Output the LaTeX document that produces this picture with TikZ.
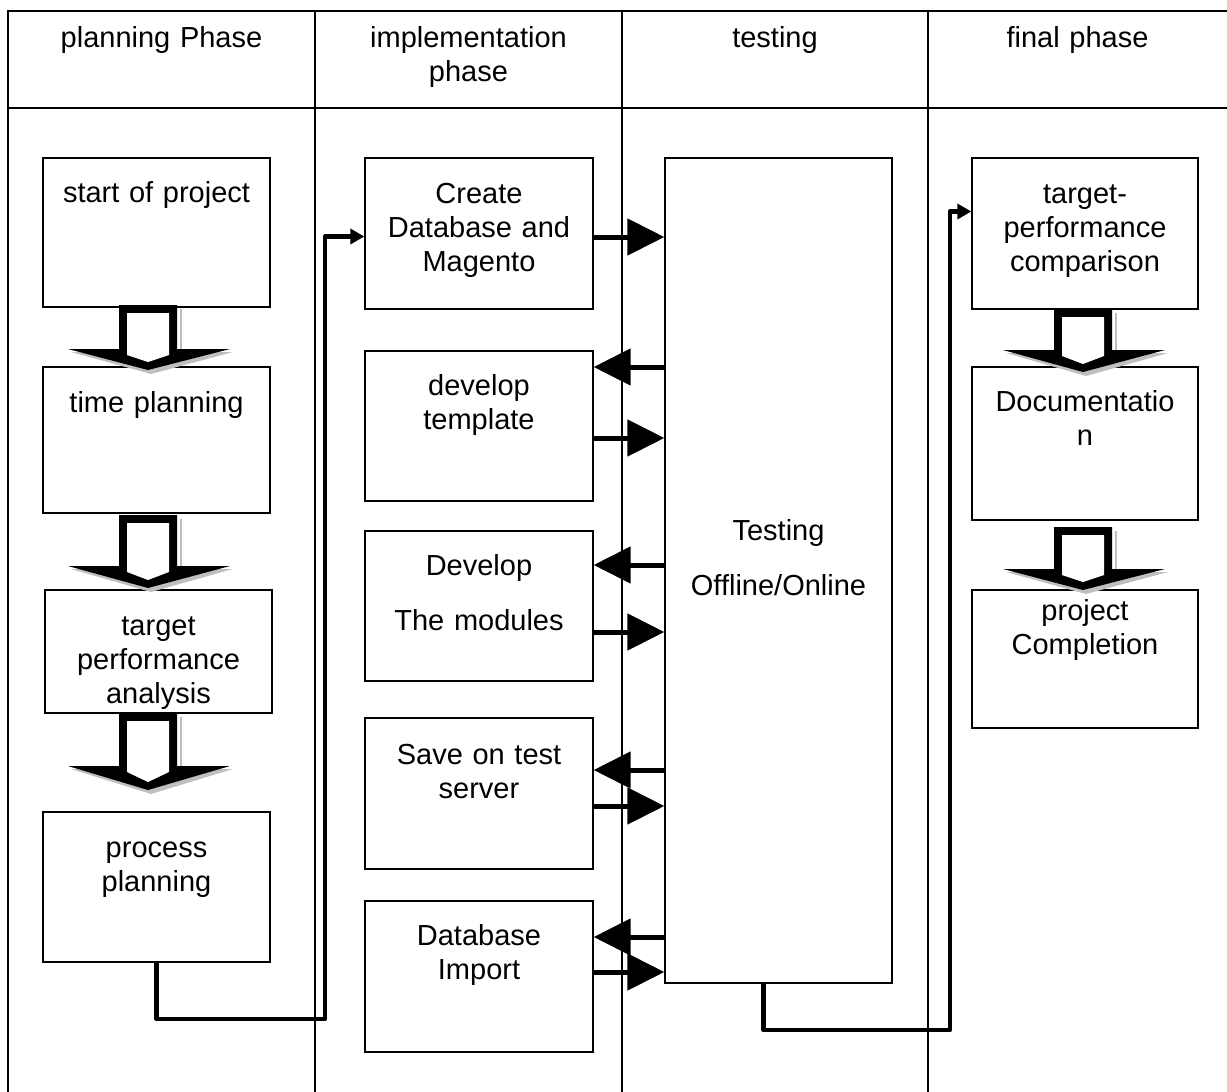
\documentclass[tikz,border=0pt]{standalone}
\usepackage{fontspec}
\setmainfont{Liberation Sans}
\usetikzlibrary{arrows.meta,calc}

\tikzset{
  box/.style={draw, line width=1.3pt, rectangle, inner sep=0pt},
  txt/.style={font=\fontsize{29}{34}\selectfont, text width=227pt, align=center, anchor=base, inner sep=0pt},
  gridline/.style={line width=2.2pt},
  side/.style={line width=5pt, -{Triangle[length=37pt,width=36pt]}},
  conn/.style={line width=4.5pt, -{Triangle[length=14pt,width=15pt]}, line join=round},
}

\newcommand\mkbox[5]{%
  \node[box, minimum width={(#4-#2)*1pt}, minimum height={(#5-#3)*1pt}] (#1) at ({(#2+#4)/2},{(#3+#5)/2}) {};}

\newcommand\blkarrow[4]{%
  \fill[black!25] ({#1+32},{#2+4}) rectangle ({#1+34},#3);
  \fill[black!25] ({#1-77},{#3+3}) -- ({#1+85},{#3+3}) -- ({#1+3},{#4+4}) -- cycle;
  \fill[black] ({#1-29},#2) -- ({#1+29},#2) -- ({#1+29},#3) -- ({#1+82},#3) -- (#1,#4) -- ({#1-80},#3) -- ({#1-29},#3) -- cycle;
  \fill[white] ({#1-21},{#2+8}) -- ({#1+21},{#2+8}) -- ({#1+21},{#3+6}) -- (#1,{#4-8}) -- ({#1-21},{#3+6}) -- cycle;}

\begin{document}
\begin{tikzpicture}[x=1pt,y=-1pt]
\useasboundingbox (0,0) rectangle (1227,1092);

% table
\draw[gridline] (8,1092) -- (8,11) -- (1227,11);
\draw[gridline] (8,108) -- (1227,108);
\foreach \x in {315,622,928} \draw[gridline] (\x,11) -- (\x,1092);

% headers
\node[txt] (h1) at (161.5,47) {planning Phase};
\node[txt] (h2) at (468.5,47) {implementation\\phase};
\node[txt] (h3) at (775,47) {testing};
\node[txt] (h4) at (1077.5,47) {final phase};

% boxes
\mkbox{start}{43}{158}{270}{307}
\mkbox{time}{43}{367}{270}{513}
\mkbox{target}{45}{590}{272}{713}
\mkbox{process}{43}{812}{270}{962}
\mkbox{create}{365}{158}{593}{309}
\mkbox{template}{365}{351}{593}{501}
\mkbox{modules}{365}{531}{593}{681}
\mkbox{save}{365}{718}{593}{869}
\mkbox{import}{365}{901}{593}{1052}
\mkbox{testing}{665}{158}{892}{983}
\mkbox{tpc}{972}{158}{1198}{309}
\mkbox{doc}{972}{367}{1198}{520}
\mkbox{completion}{972}{590}{1198}{728}

% box texts
\node[txt] (t-start) at (start.north |- 0,202) {start of project};
\node[txt] (t-time) at (time.north |- 0,412) {time planning};
\node[txt] (t-target) at (target.north |- 0,635) {target\\performance\\analysis};
\node[txt] (t-process) at (process.north |- 0,857) {process\\planning};
\node[txt] (t-create) at (create.north |- 0,203) {Create\\Database and\\Magento};
\node[txt] (t-template) at (template.north |- 0,395) {develop\\template};
\node[txt] (t-modules) at (modules.north |- 0,575) {Develop\\[21pt]The modules};
\node[txt] (t-save) at (save.north |- 0,764) {Save on test\\server};
\node[txt] (t-import) at (import.north |- 0,945) {Database\\Import};
\node[txt] (t-testing) at (testing.north |- 0,540) {Testing\\[21pt]Offline/Online};
\node[txt] (t-tpc) at (tpc.north |- 0,203) {target-\\performance\\comparison};
\node[txt] (t-doc) at (doc.north |- 0,411) {Documentatio\\n};
\node[txt] (t-completion) at (completion.north |- 0,620) {project\\Completion};

% block arrows
\blkarrow{148}{305}{349}{370}
\blkarrow{148}{515}{566}{588}
\blkarrow{148}{713}{766}{790}
\blkarrow{1083}{309}{350}{372}
\blkarrow{1083}{527}{569}{590}

% side arrows
\draw[side] (create.east |- 0,237) -- (testing.west |- 0,237);
\draw[side] (testing.west |- 0,367) -- (template.east |- 0,367);
\draw[side] (template.east |- 0,438) -- (testing.west |- 0,438);
\draw[side] (testing.west |- 0,565) -- (modules.east |- 0,565);
\draw[side] (modules.east |- 0,632) -- (testing.west |- 0,632);
\draw[side] (testing.west |- 0,770) -- (save.east |- 0,770);
\draw[side] (save.east |- 0,806) -- (testing.west |- 0,806);
\draw[side] (testing.west |- 0,937) -- (import.east |- 0,937);
\draw[side] (import.east |- 0,972) -- (testing.west |- 0,972);

% elbow connectors
\coordinate (c1) at (325,1019);
\draw[conn] (process.south) |- (c1) |- ($(create.west)+(0,3)$);
\coordinate (c2) at (950,1030);
\draw[conn] ([xshift=-15pt]testing.south) |- (c2) |- ($(tpc.west)+(0,-22)$);
\end{tikzpicture}
\end{document}
